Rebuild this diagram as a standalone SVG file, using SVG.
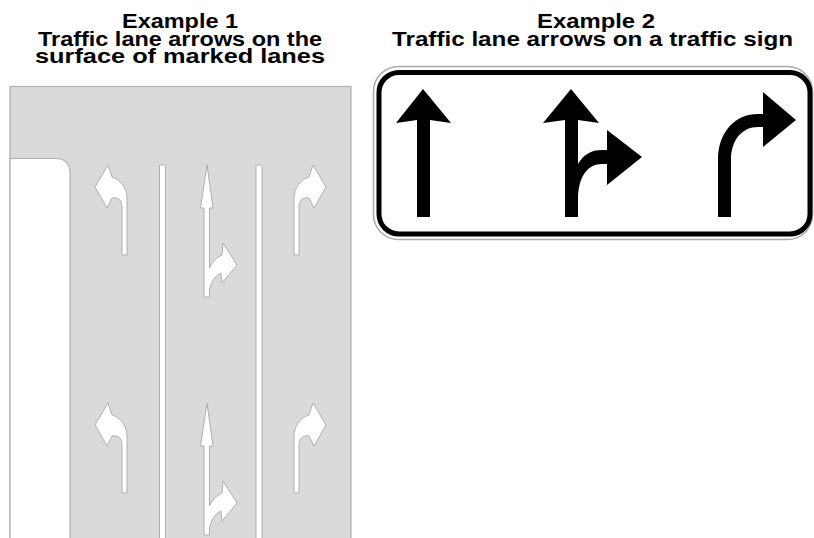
<svg xmlns="http://www.w3.org/2000/svg" width="814" height="538" viewBox="0 0 814 538">
<style>
.h{font-family:"Liberation Sans",Arial,sans-serif;font-weight:bold;font-size:21px;fill:#000;text-anchor:middle}
.road{fill:#dadada;stroke:#b0b0b0;stroke-width:1.2}
.mark{fill:#fff;stroke:#a8a8a8;stroke-width:0.9}
.sa{fill:#000}
</style>
<defs>
<path id="leftArrow" d="M122,255 L122,207 C122,200 118,197 112,198 L107,208 L95,187 L108,165 L112,177 C120,179 127,188 127,198 L127,255 Z"/>
<path id="midArrow" d="M207,165 L213,208 L209.5,208 L209.5,268 Q213,259 222,255 L223,243 L237,265 L222,283 L221,273 Q212,277 209.5,290 L209.5,297 L204,297 L204,208 L200.5,208 Z"/>
</defs>
<g id="titles">
<text class="h" x="180" y="28" textLength="116" lengthAdjust="spacingAndGlyphs">Example 1</text>
<text class="h" x="180" y="46" textLength="284" lengthAdjust="spacingAndGlyphs">Traffic lane arrows on the</text>
<text class="h" x="180" y="63" textLength="290" lengthAdjust="spacingAndGlyphs">surface of marked lanes</text>
<text class="h" x="596" y="28" textLength="118" lengthAdjust="spacingAndGlyphs">Example 2</text>
<text class="h" x="592.5" y="46" textLength="401" lengthAdjust="spacingAndGlyphs">Traffic lane arrows on a traffic sign</text>
</g>
<g id="example1">
<rect class="road" x="10" y="86.5" width="341" height="460"/>
<path d="M10,545 L10,158.5 L55,158.5 Q70,158.5 70,173 L70,545 Z" fill="#fff" stroke="#b0b0b0" stroke-width="1.2"/>
<rect class="mark" x="159.5" y="165" width="6" height="380" rx="1"/>
<rect class="mark" x="256" y="165" width="6" height="380" rx="1"/>
<g id="lane-arrows-top">
<use href="#leftArrow" class="mark"/>
<use href="#midArrow" class="mark"/>
<use href="#leftArrow" class="mark" transform="translate(421,0) scale(-1,1)"/>
</g>
<g id="lane-arrows-bottom" transform="translate(0,238)">
<use href="#leftArrow" class="mark"/>
<use href="#midArrow" class="mark"/>
<use href="#leftArrow" class="mark" transform="translate(421,0) scale(-1,1)"/>
</g>
</g>
<g id="example2">
<rect x="373.5" y="66.5" width="439" height="173" rx="25" fill="#fff" stroke="#aaa" stroke-width="1.5"/>
<rect x="379" y="72.5" width="431" height="161.5" rx="20" fill="#fff" stroke="#000" stroke-width="5"/>
<path class="sa" d="M423,89 L451,123 L430,120 L430,217 L417,217 L417,120 L396,123 Z"/>
<path class="sa" d="M571,89 L599,123 L578,120 L578,217 L565,217 L565,120 L543,123 Z"/>
<path class="sa" d="M571,200 C571,162 585,150 602,150 L607,150 L607,130 L642,157 L607,185 L607,164 L602,164 C588,164 578,176 578,200 Z"/>
<path class="sa" d="M718,217 L718,160 C718,132 735,114 758,114 L763,114 L763,92 L796,120 L763,147 L763,127 L758,127 C742,127 731,140 731,160 L731,217 Z"/>
</g>
</svg>
